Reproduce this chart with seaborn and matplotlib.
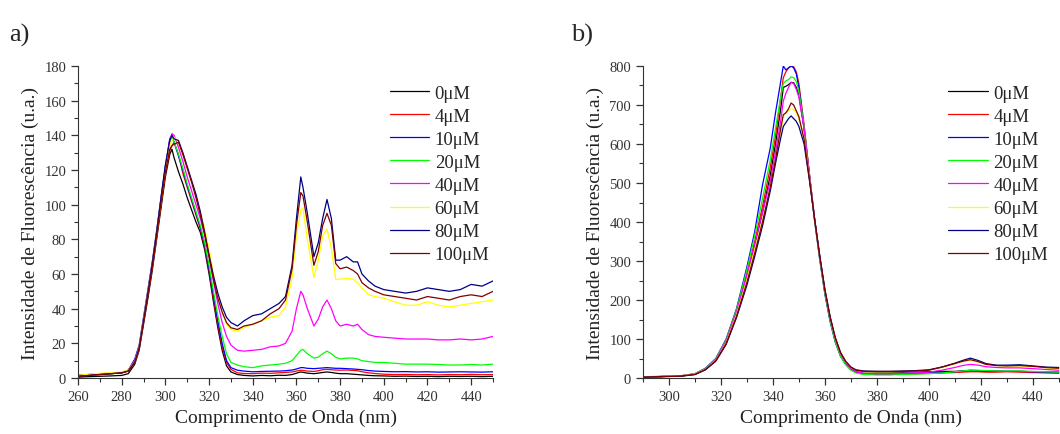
import numpy as np
import pandas as pd
import matplotlib
matplotlib.use("Agg")
import matplotlib.pyplot as plt
from matplotlib.ticker import MultipleLocator
import seaborn as sns

# concentration labels and colours (Origin default palette)
labels = ["0μM", "4μM", "10μM", "20μM", "40μM", "60μM", "80μM", "100μM"]
colors = ["#000000", "#ff0000", "#0000ff", "#00ff00",
          "#ff00ff", "#ffff00", "#000080", "#800000"]

# ---- panel a) wavelengths (nm) ----
wl_a = [260, 265, 270, 275, 280, 283, 286, 288, 290, 292, 294, 296, 298, 300,
        302, 303, 304, 306, 308, 310, 312, 314, 316, 318, 320, 322, 324, 326,
        328, 330, 333, 336, 340, 344, 348, 352, 355, 358, 360, 362, 363, 365,
        368, 370, 372, 374, 376, 378, 380, 383, 386, 388, 390, 393, 396, 400,
        405, 410, 415, 420, 425, 430, 435, 440, 445, 450]

a_0 = [0.5, 0.8, 1.0, 1.2, 1.5, 2.5, 8, 16, 31, 46, 62, 80, 98, 116,
       129, 132, 127, 119, 112, 104, 97, 90, 84, 74, 60, 44, 29, 16,
       7, 3.5, 2, 1.5, 1.2, 1.5, 1.3, 1.6, 1.5, 2.0, 2.8, 3.5, 3.3, 2.8,
       2.5, 2.8, 3.2, 3.5, 3.2, 2.8, 2.5, 2.5, 2.2, 2.0, 1.8, 1.5, 1.3, 1.2,
       1.0, 1.1, 0.9, 1.0, 0.8, 1.0, 0.9, 1.0, 0.8, 1.0]
a_4 = [1.5, 2.0, 2.2, 2.5, 3.0, 4, 10, 18, 33, 48, 64, 82, 100, 118,
       131, 134, 136, 129, 118, 110, 102, 94, 86, 76, 62, 46, 31, 18,
       9, 5, 3, 2.6, 2.5, 2.8, 2.7, 3.0, 3.2, 3.5, 4.0, 4.5, 4.4, 4.0,
       3.8, 4.2, 4.8, 5.0, 4.8, 4.6, 4.5, 4.6, 4.4, 4.2, 3.6, 3.0, 2.6, 2.2,
       2.0, 2.1, 1.9, 2.0, 1.8, 2.0, 1.9, 2.1, 1.9, 2.0]
a_10 = [1.5, 2.0, 2.2, 2.5, 3.0, 4.5, 11, 19, 35, 51, 67, 85, 104, 122,
        138, 140, 136, 128, 120, 111, 103, 95, 87, 77, 63, 48, 33, 20,
        10, 6, 4.5, 4.0, 3.6, 3.8, 3.9, 4.0, 4.2, 4.6, 5.2, 6.0, 6.0, 5.6,
        5.4, 5.6, 5.8, 6.0, 5.8, 5.6, 5.6, 5.4, 5.2, 5.0, 4.8, 4.3, 4.0, 3.8,
        3.6, 3.7, 3.5, 3.6, 3.4, 3.5, 3.6, 3.5, 3.4, 3.6]
a_20 = [1.5, 2.0, 2.2, 2.5, 3.0, 4.5, 10, 18, 34, 50, 66, 84, 103, 121,
        136, 139, 136, 129, 121, 112, 104, 96, 88, 78, 65, 50, 36, 24,
        14, 9, 7.5, 6.5, 6.0, 7.0, 7.5, 8.0, 8.5, 10, 13, 16, 16.5, 14,
        11.5, 12, 14, 15.5, 14, 12, 11, 11.5, 11.5, 11, 10, 9.5, 9.0, 9.0,
        8.5, 8.0, 8.0, 8.0, 7.8, 7.5, 7.5, 7.8, 7.5, 8.0]
a_40 = [1.5, 2.0, 2.5, 2.8, 3.2, 4.5, 10, 18, 34, 50, 66, 84, 103, 121,
        137, 141, 140, 133, 125, 116, 108, 100, 92, 82, 70, 56, 43, 32,
        24, 19, 16, 15.5, 16, 16.5, 18, 18.5, 20, 27, 40, 50, 48, 40,
        30, 34, 41, 45, 40, 33, 30, 31, 30, 31, 28, 25, 24, 23.5,
        23, 22.5, 22.5, 22.5, 22, 22, 22.5, 22, 22.5, 24]
a_60 = [1.5, 2.2, 2.8, 3.0, 3.5, 4.5, 9, 17, 33, 49, 65, 83, 102, 120,
        134, 137, 139, 136, 129, 121, 113, 105, 96, 86, 74, 60, 48, 38,
        31, 28, 27, 29, 31, 33, 35, 36, 41, 58, 82, 97, 98, 80,
        58, 68, 82, 86, 75, 57, 57, 57.5, 57, 55, 52, 48, 47, 46,
        44, 42, 42, 44, 42, 41, 42, 43, 44, 45]
a_80 = [1.0, 1.5, 2.0, 2.5, 3.0, 4.0, 9, 17, 33, 49, 66, 84, 104, 123,
        137, 140, 138, 137, 130, 122, 114, 106, 96, 84, 71, 59, 49, 41,
        35, 32, 30, 33, 36, 37, 40, 43, 47, 65, 92, 116, 110, 95,
        70, 78, 92, 103, 92, 68, 68, 70, 67, 67, 60, 56, 53, 51,
        50, 49, 50, 52, 51, 50, 51, 54, 53, 56]
a_100 = [1.0, 1.5, 2.0, 2.5, 3.0, 4.0, 9, 17, 32, 48, 64, 82, 101, 119,
         132, 134, 135, 136, 129, 121, 113, 104, 94, 83, 70, 57, 46, 38,
         32, 29, 28, 30, 31, 33, 37, 40, 45, 63, 88, 107, 105, 90,
         65, 73, 88, 95, 88, 66, 63, 64, 62, 60, 55, 52, 50, 48,
         47, 46, 45, 47, 46, 45, 47, 48, 47, 50]

# ---- panel b) wavelengths (nm) ----
wl_b = [290, 295, 300, 305, 310, 314, 318, 322, 326, 330, 333, 336, 339, 341,
        343, 344, 345, 346, 347, 348, 349, 350, 352, 354, 356, 358, 360, 362,
        364, 366, 368, 370, 372, 375, 380, 385, 390, 395, 400, 405, 410, 413,
        416, 419, 422, 426, 430, 435, 440, 445, 450]

b_0 = [2, 3, 5, 6, 10, 23, 47, 94, 168, 262, 340, 425, 520, 600,
       690, 745, 748, 752, 758, 757, 745, 725, 640, 525, 410, 310, 222, 152,
       98, 60, 38, 25, 19, 16, 15, 15, 15, 16, 16, 17, 17, 18,
       18, 18, 17, 17, 17, 17, 16, 15, 15]
b_4 = [3, 4, 5, 6, 10, 23, 47, 95, 170, 268, 350, 440, 540, 620,
       720, 770, 785, 795, 800, 798, 785, 755, 650, 525, 410, 310, 220, 150,
       95, 58, 36, 22, 14, 10, 9, 9, 10, 11, 12, 13, 14, 15,
       16, 16, 15, 15, 16, 15, 14, 13, 12]
b_10 = [2, 3, 5, 6, 11, 25, 50, 100, 178, 285, 375, 495, 590, 680,
        760, 800, 790, 795, 800, 795, 780, 745, 640, 520, 405, 305, 215, 145,
        92, 56, 35, 22, 16, 12, 10, 11, 11, 12, 13, 14, 16, 18,
        20, 19, 18, 18, 17, 17, 16, 15, 15]
b_20 = [2, 3, 5, 6, 11, 24, 49, 98, 175, 278, 365, 460, 560, 640,
         720, 755, 762, 765, 772, 770, 760, 735, 645, 525, 408, 308, 218, 148,
         93, 56, 34, 20, 13, 9, 8, 8, 9, 10, 11, 13, 16, 18,
         20, 20, 19, 18, 18, 18, 17, 16, 15]
b_40 = [2, 3, 5, 6, 10, 23, 47, 95, 170, 265, 345, 425, 505, 580,
        660, 710, 730, 745, 758, 755, 740, 720, 640, 525, 410, 312, 224, 154,
        100, 62, 40, 25, 16, 12, 11, 11, 12, 13, 15, 20, 27, 32,
        35, 33, 29, 27, 26, 26, 24, 22, 20]
b_60 = [2, 3, 5, 6, 10, 22, 45, 90, 162, 252, 330, 405, 485, 555,
        630, 670, 680, 685, 690, 688, 680, 665, 615, 515, 408, 312, 225, 156,
        102, 64, 41, 27, 20, 16, 16, 16, 17, 18, 20, 27, 36, 42,
        45, 41, 35, 32, 31, 31, 29, 26, 24]
b_80 = [2, 3, 4, 5, 9, 21, 43, 86, 155, 238, 312, 390, 480, 550,
        615, 645, 655, 665, 672, 665, 658, 645, 600, 510, 410, 315, 228, 158,
        104, 66, 43, 28, 21, 18, 17, 17, 18, 19, 21, 28, 38, 45,
        51, 45, 37, 33, 33, 34, 31, 28, 27]
b_100 = [2, 3, 4, 5, 9, 21, 44, 88, 158, 245, 320, 400, 490, 560,
         640, 675, 680, 690, 705, 700, 685, 670, 612, 512, 410, 314, 226, 157,
         103, 65, 42, 28, 20, 17, 17, 17, 17, 18, 20, 28, 37, 43,
         47, 42, 35, 32, 31, 32, 30, 27, 25]

series_a = [a_0, a_4, a_10, a_20, a_40, a_60, a_80, a_100]
series_b = [b_0, b_4, b_10, b_20, b_40, b_60, b_80, b_100]


def to_long(wl, series):
    frames = []
    for lab, vals in zip(labels, series):
        frames.append(pd.DataFrame({"wl": wl, "val": vals, "conc": lab}))
    return pd.concat(frames, ignore_index=True)


sns.set_style("ticks")
plt.rcParams["font.family"] = ["Liberation Serif", "DejaVu Serif"]
plt.rcParams["axes.edgecolor"] = "#333333"
plt.rcParams["xtick.color"] = "#333333"
plt.rcParams["ytick.color"] = "#333333"

fig = plt.figure(figsize=(10.6, 4.35), dpi=100)
ax_a = fig.add_axes([0.0736, 0.1287, 0.3915, 0.7173])
ax_b = fig.add_axes([0.6066, 0.1287, 0.3934, 0.7173])

palette = dict(zip(labels, colors))

for ax, wl, series in [(ax_a, wl_a, series_a), (ax_b, wl_b, series_b)]:
    df = to_long(wl, series)
    sns.lineplot(data=df, x="wl", y="val", hue="conc", hue_order=labels,
                 palette=palette, linewidth=0.9, ax=ax, estimator=None,
                 sort=False)
    sns.despine(ax=ax)
    ax.set_xlabel("Comprimento de Onda (nm)", fontsize=14, color="#222222")
    ax.set_ylabel("Intensidade de Fluorescência (u.a.)", fontsize=14,
                  color="#222222")
    ax.tick_params(axis="both", which="major", labelsize=10.5, length=5,
                   width=0.9, labelcolor="#333333")
    ax.tick_params(axis="both", which="minor", length=3, width=0.8)
    handles, labs = ax.get_legend_handles_labels()
    ax.legend(handles, labs, frameon=False, loc="upper left",
              bbox_to_anchor=(0.733, 0.965), fontsize=13.5, handlelength=2.1,
              handletextpad=0.3, labelspacing=0.32, borderaxespad=0)

ax_a.set_xlim(260, 450)
ax_a.set_ylim(0, 180)
ax_a.xaxis.set_major_locator(MultipleLocator(20))
ax_a.xaxis.set_minor_locator(MultipleLocator(10))
ax_a.yaxis.set_major_locator(MultipleLocator(20))
ax_a.yaxis.set_minor_locator(MultipleLocator(10))

ax_b.set_xlim(290, 450.5)
ax_b.set_ylim(0, 800)
ax_b.xaxis.set_major_locator(MultipleLocator(20))
ax_b.xaxis.set_minor_locator(MultipleLocator(10))
ax_b.yaxis.set_major_locator(MultipleLocator(100))
ax_b.yaxis.set_minor_locator(MultipleLocator(50))
ax_b.set_xticks([300, 320, 340, 360, 380, 400, 420, 440])
ax_b.legend_.set_bbox_to_anchor((0.714, 0.965))

fig.text(0.009, 0.905, "a)", fontsize=19)
fig.text(0.539, 0.905, "b)", fontsize=19)

fig.savefig("out.png", dpi=100)
